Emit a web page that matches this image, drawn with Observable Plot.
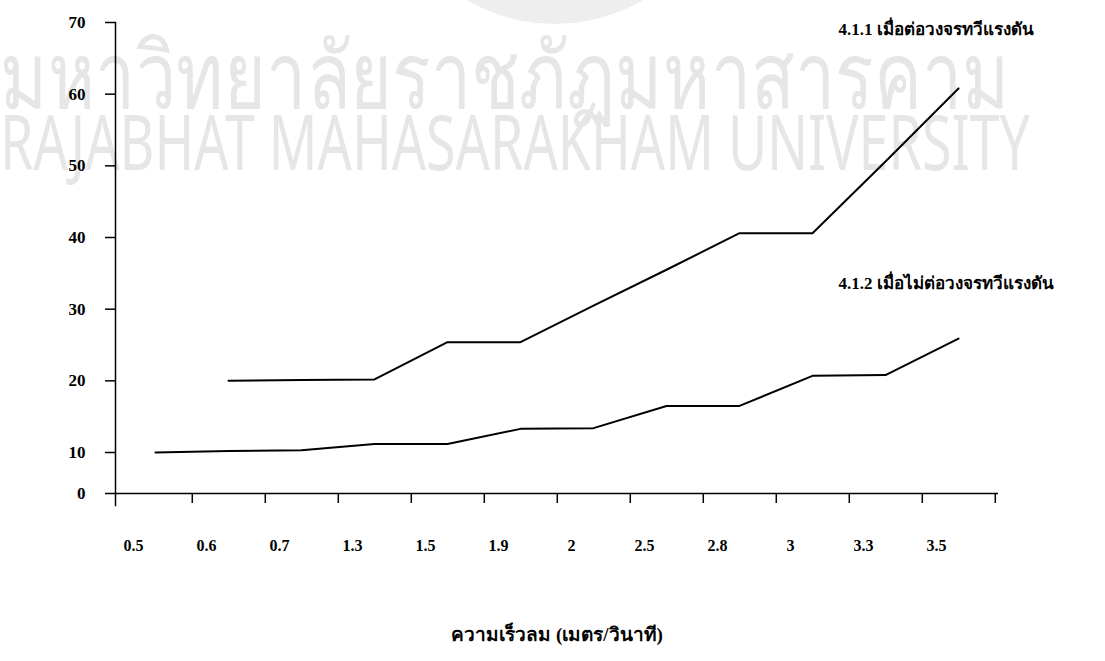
<!DOCTYPE html>
<html>
<head>
<meta charset="utf-8">
<script src="https://cdn.jsdelivr.net/npm/d3@7"></script>
<script src="https://cdn.jsdelivr.net/npm/@observablehq/plot@0.6"></script>
<style>
  html, body { margin: 0; padding: 0; background: #fff; }
  #chart { width: 1105px; height: 661px; }
</style>
</head>
<body>
<div id="chart"></div>
<script>
// Wind speed categories (m/s)
const windSpeeds = ["0.5","0.6","0.7","1.3","1.5","1.9","2","2.5","2.8","3","3.3","3.5"];
// 4.1.1 with voltage multiplier circuit
const withMultiplier = [null, 20, 20.1, 20.2, 25.4, 25.4, 30.5, 35.5, 40.6, 40.6, 50.6, 60.8];
// 4.1.2 without voltage multiplier circuit
const withoutMultiplier = [10, 10.2, 10.3, 11.2, 11.2, 13.3, 13.4, 16.5, 16.5, 20.7, 20.8, 25.9];
const yTicks = [0, 10, 20, 30, 40, 50, 60, 70];
const seriesLabels = ["4.1.1 เมื่อต่อวงจรทวีแรงดัน", "4.1.2 เมื่อไม่ต่อวงจรทวีแรงดัน"];
const xTitle = "ความเร็วลม (เมตร/วินาที)";
const watermarkThai = "มหาวิทยาลัยราชภัฏมหาสารคาม";
const watermarkEng = "RAJABHAT MAHASARAKHAM UNIVERSITY";

const rows = [];
windSpeeds.forEach((w, i) => {
  rows.push({series: "a", speed: w, value: withMultiplier[i]});
  rows.push({series: "b", speed: w, value: withoutMultiplier[i]});
});

const left = 115, right = 998;
const step = (right - left) / windSpeeds.length;
const font = "'Liberation Serif', 'Times New Roman', serif";
// the scanned axis has a shorter first interval (0–10) than the others
const squeeze = 0.572;
const yWarp = v => (v == null ? v : v <= 10 ? v * squeeze : v - 10 + 10 * squeeze);

const chart = Plot.plot({
  width: 1105,
  height: 661,
  marginLeft: left,
  marginRight: 1105 - right,
  marginTop: 22,
  marginBottom: 168,
  style: {fontFamily: font, fontWeight: "bold", fontSize: "16px", color: "#000", background: "transparent"},
  x: {type: "point", domain: windSpeeds, padding: 0.5},
  y: {transform: yWarp, domain: [0, yWarp(70)]},
  marks: [
    Plot.frame({anchor: "left", insetBottom: -12, stroke: "#000", strokeWidth: 1.5}),
    Plot.ruleY([0], {stroke: "#000", strokeWidth: 1.5}),
    Plot.axisY(yTicks, {tickSize: 10, tickPadding: 20, fontSize: 17, fontWeight: "bold", label: null, strokeWidth: 1.5}),
    Plot.axisX({tickSize: 10, tickFormat: () => "", dx: step / 2, label: null, strokeWidth: 1.5}),
    Plot.axisX({tickSize: 0, tickPadding: 46, dx: -22, fontSize: 16, fontWeight: "bold", label: null}),
    Plot.line(rows, {x: "speed", y: "value", z: "series", stroke: "#000", strokeWidth: 2}),
    Plot.text([seriesLabels[0]], {frameAnchor: "top-left", dx: 723, dy: 7, lineAnchor: "middle", textAnchor: "start", fontSize: 17, fontWeight: "bold"}),
    Plot.text([seriesLabels[1]], {frameAnchor: "top-left", dx: 723, dy: 261, lineAnchor: "middle", textAnchor: "start", fontSize: 17, fontWeight: "bold"}),
    Plot.text([xTitle], {frameAnchor: "bottom", dy: 141, lineAnchor: "middle", fontSize: 19, fontWeight: "bold"})
  ]
});

// Scan watermark behind the chart
const svg = d3.select(chart);
const wm = svg.insert("g", ":first-child").attr("fill", "#e6e6e6").attr("text-anchor", "start")
  .attr("font-family", "'Noto Sans', 'DejaVu Sans', sans-serif").attr("font-weight", "normal");
wm.append("circle").attr("cx", 555).attr("cy", -150).attr("r", 174).attr("fill", "#eeeeee");
wm.append("text").attr("x", 0).attr("y", 108).attr("font-size", 92)
  .attr("textLength", 1010).attr("lengthAdjust", "spacingAndGlyphs").text(watermarkThai);
wm.append("text").attr("x", 0).attr("y", 170).attr("font-size", 76)
  .attr("textLength", 1030).attr("lengthAdjust", "spacingAndGlyphs").text(watermarkEng);
svg.insert("rect", ":first-child").attr("width", 1105).attr("height", 661).attr("fill", "#fff");

document.getElementById("chart").appendChild(chart);
</script>
</body>
</html>
